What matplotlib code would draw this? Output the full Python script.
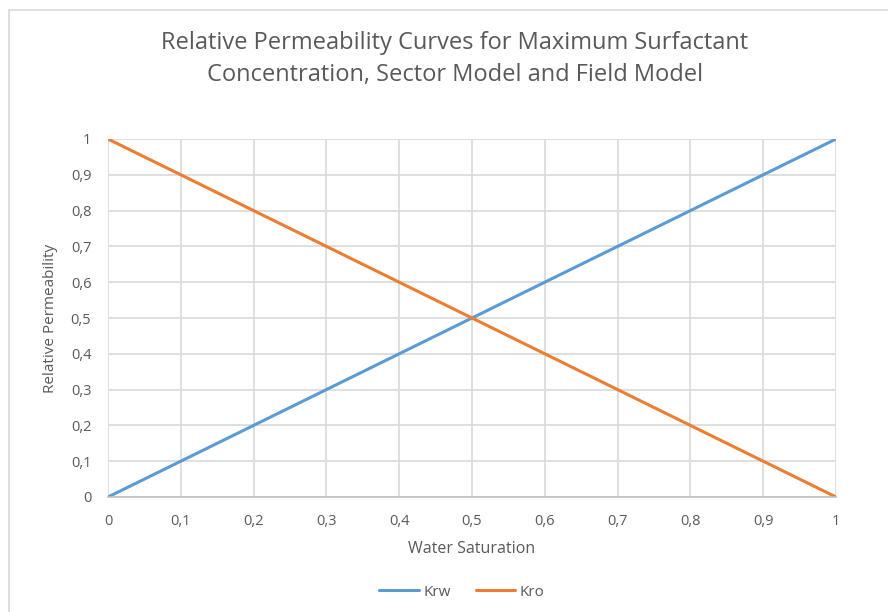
import matplotlib.pyplot as plt
from matplotlib.patches import Rectangle

sw = [0, 0.1, 0.2, 0.3, 0.4, 0.5, 0.6, 0.7, 0.8, 0.9, 1]
krw = [0, 0.1, 0.2, 0.3, 0.4, 0.5, 0.6, 0.7, 0.8, 0.9, 1]
kro = [1, 0.9, 0.8, 0.7, 0.6, 0.5, 0.4, 0.3, 0.2, 0.1, 0]
ticks = [0, 0.1, 0.2, 0.3, 0.4, 0.5, 0.6, 0.7, 0.8, 0.9, 1]
tick_labels = ['0', '0,1', '0,2', '0,3', '0,4', '0,5', '0,6', '0,7', '0,8', '0,9', '1']

plt.rcParams['font.family'] = ['Open Sans', 'DejaVu Sans']
txt = '#595959'
grid = '#d9d9d9'

fig = plt.figure(figsize=(8.88, 6.12), dpi=100)
# chart frame
fig.patches.append(Rectangle((9 / 888, -0.01), 1.0, 1 - 10 / 612 + 0.01,
                             transform=fig.transFigure, fill=False,
                             edgecolor='#d9d9d9', lw=1.2))

ax = fig.add_axes([108 / 888, 1 - 497 / 612, 728 / 888, 358 / 612])
ax.plot(sw, krw, color='#5b9bd5', lw=2.2, label='Krw', solid_capstyle='round')
ax.plot(sw, kro, color='#ed7d31', lw=2.2, label='Kro', solid_capstyle='round')

ax.set_xlim(0, 1)
ax.set_ylim(0, 1)
ax.set_xticks(ticks)
ax.set_xticklabels(tick_labels)
ax.set_yticks(ticks)
ax.set_yticklabels(tick_labels)
ax.tick_params(length=0, labelsize=10.5, colors=txt)
ax.tick_params(axis='x', pad=12)
ax.tick_params(axis='y', pad=12)
ax.grid(True, color=grid, lw=1.2)
ax.set_axisbelow(True)
for s in ['top', 'right', 'left']:
    ax.spines[s].set_visible(False)
ax.spines['bottom'].set_color('#bfbfbf')
ax.spines['bottom'].set_linewidth(1.2)

ax.set_xlabel('Water Saturation', fontsize=11.5, color=txt, labelpad=9)
ax.set_ylabel('Relative Permeability', fontsize=11, color=txt, labelpad=9)

fig.text(455 / 888, 1 - 59 / 612,
         'Relative Permeability Curves for Maximum Surfactant\n'
         'Concentration, Sector Model and Field Model',
         ha='center', va='center', fontsize=17, color=txt, linespacing=1.4)

fig.legend(loc='center', bbox_to_anchor=(462 / 888, 1 - 592 / 612), ncol=2,
           frameon=False, fontsize=11, labelcolor=txt, handlelength=2.6,
           handletextpad=0.3, columnspacing=1.6)

fig.savefig('out.png', dpi=100)
